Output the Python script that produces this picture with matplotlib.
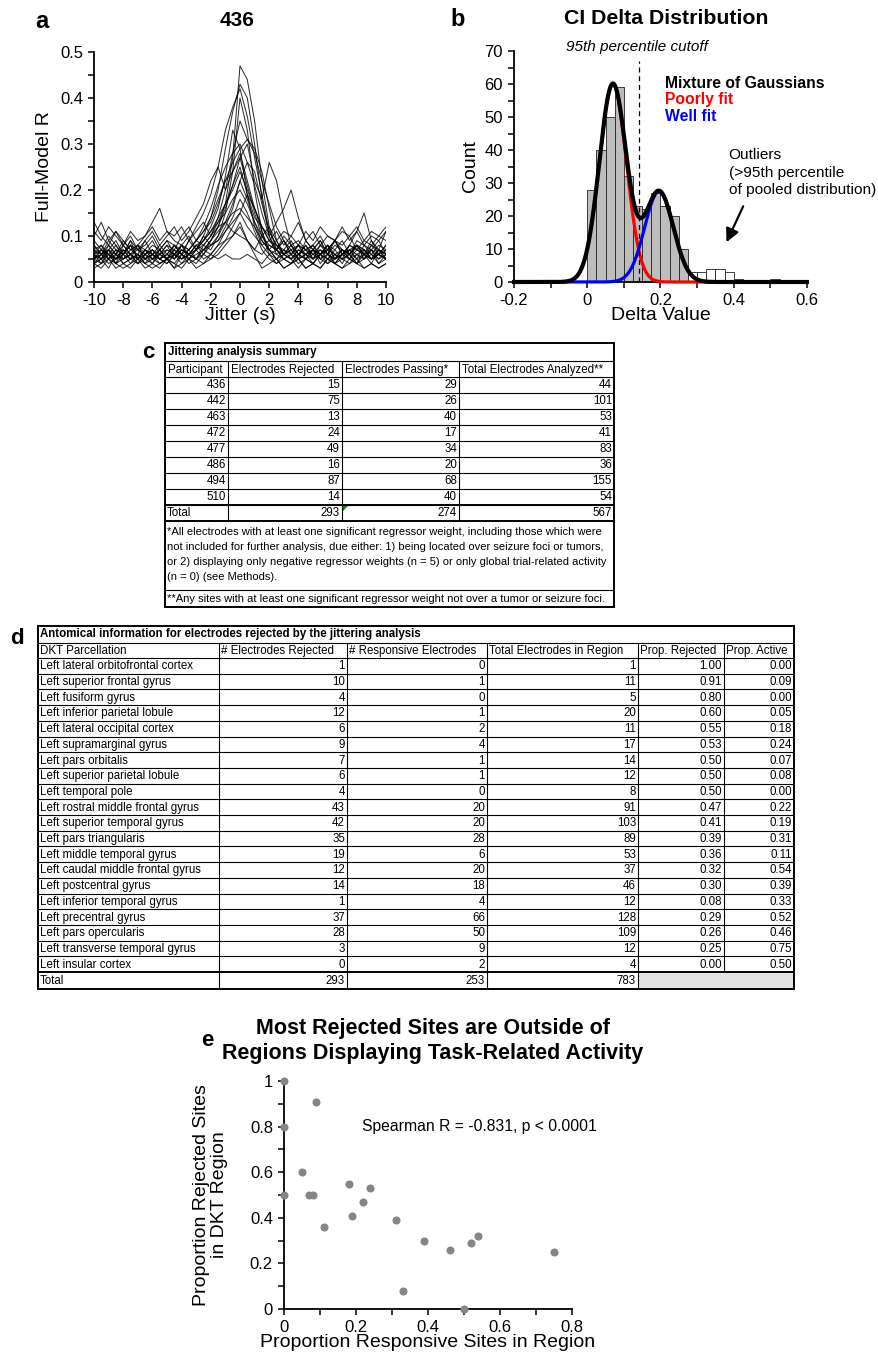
import numpy as np
import matplotlib
matplotlib.use("Agg")
import matplotlib.pyplot as plt
from matplotlib.ticker import MultipleLocator, FuncFormatter
from matplotlib.patches import Rectangle, Polygon

plt.rcParams['font.family'] = ['Liberation Sans', 'DejaVu Sans']

W, H = 879, 1353

# ---------------- panel a: jittered full-model R traces (values x100) ----------------
jitter = np.arange(-10, 10.5, 0.5)
traces_pct = [
    [6,5,7,4,6,5,8,5,6,4,5,7,5,6,8,6,9,12,17,27,47,44,35,22,12,7,5,6,8,5,6,7,5,6,4,7,6,5,8,6,5],
    [5,7,6,8,5,6,4,6,7,5,6,5,8,6,7,10,14,20,29,37,43,40,30,18,10,6,7,5,6,8,6,5,7,6,5,8,7,6,5,7,6],
    [7,6,8,6,5,7,6,9,6,7,5,8,6,9,12,15,19,25,33,38,42,36,27,19,11,8,6,7,5,6,7,9,6,5,7,6,8,7,5,6,8],
    [5,4,6,5,7,5,6,5,4,6,5,7,6,5,7,8,10,14,20,28,35,31,29,24,16,9,6,5,7,6,4,6,5,7,5,6,4,7,5,6,5],
    [8,6,7,9,6,8,7,6,8,7,9,6,8,7,9,11,13,17,22,26,29,31,28,22,17,12,9,7,8,6,7,9,6,8,7,6,9,8,7,6,8],
    [10,13,9,11,8,10,7,9,11,8,10,12,9,11,14,17,22,25,20,24,28,22,16,12,9,11,8,10,13,9,11,8,10,9,12,9,11,8,10,9,11],
    [4,6,5,7,4,5,6,4,5,7,5,6,4,6,5,7,9,12,16,21,27,30,22,18,26,22,14,8,6,5,7,4,6,5,7,5,4,6,5,7,5],
    [6,8,5,7,6,9,5,7,6,8,6,5,7,6,8,9,11,14,17,21,25,19,14,12,10,13,16,20,14,9,7,6,8,5,7,6,8,6,5,7,6],
    [5,7,6,4,8,6,5,7,5,6,8,5,7,6,5,8,7,10,13,17,22,18,13,9,7,5,6,8,6,5,7,6,8,5,6,7,5,8,6,5,7],
    [7,5,8,6,9,7,8,10,13,16,11,9,8,10,7,9,11,13,15,18,20,17,13,10,8,7,9,6,8,7,5,8,6,9,7,6,8,7,6,8,7],
    [4,5,3,6,4,5,4,6,5,4,5,3,6,4,5,4,6,8,11,14,18,15,11,7,5,4,6,5,3,5,4,6,4,5,6,8,11,15,9,6,5],
    [9,7,10,8,6,9,7,8,10,7,9,8,6,9,7,10,8,9,11,13,15,12,10,8,9,7,10,8,9,7,8,10,7,9,8,10,7,9,8,10,9],
    [3,4,5,3,4,3,5,4,3,4,5,3,4,5,3,4,5,6,8,10,13,9,6,3,4,5,3,4,5,3,4,3,5,4,3,5,4,3,4,3,4],
    [6,5,7,6,5,6,7,5,6,5,7,6,5,6,7,5,6,5,6,5,5,6,5,4,6,5,7,6,5,6,5,7,6,5,6,5,7,6,5,6,5],
    [11,9,12,10,8,11,9,10,12,9,11,10,12,9,11,13,10,12,13,11,10,9,7,10,12,9,11,10,8,11,9,12,10,9,11,10,12,9,11,10,12],
    [5,6,4,5,7,5,6,4,6,5,4,6,5,7,5,6,8,10,15,24,40,33,20,11,6,4,5,6,4,5,7,5,4,6,5,4,6,5,7,4,6],
    [8,6,9,7,6,8,5,7,9,6,8,7,10,12,9,11,14,18,22,24,27,21,15,10,7,9,6,8,5,9,7,6,8,7,9,6,8,5,7,9,6],
    [6,4,7,5,6,8,5,6,4,7,5,6,8,5,7,9,12,16,23,33,29,19,12,8,6,7,5,4,6,8,5,6,7,4,6,5,8,6,4,7,5],
    [4,3,5,4,3,4,5,3,4,3,5,4,3,5,4,6,5,7,9,12,15,19,16,11,7,5,3,4,5,3,4,3,5,4,3,4,5,3,4,3,4],
    [13,10,8,11,9,7,8,6,7,5,6,8,7,6,8,7,6,8,9,10,12,9,7,6,8,7,9,6,8,7,6,8,7,9,6,7,8,6,9,7,11],
    [6,7,5,6,8,6,5,7,6,5,6,8,6,7,9,12,16,21,25,28,30,26,21,15,10,7,6,5,7,6,5,6,8,6,7,5,6,7,5,6,7],
    [5,6,7,5,6,4,6,5,7,6,5,4,6,5,6,7,8,9,12,16,22,26,24,17,11,8,6,7,5,6,8,5,6,4,6,7,5,6,7,5,6],
    [7,8,6,5,7,6,8,7,5,6,7,6,8,7,9,8,10,13,17,20,24,20,16,12,9,8,7,9,6,7,8,6,7,9,6,8,7,6,8,7,6],
    [4,5,6,4,5,6,4,5,6,5,4,6,5,6,5,7,9,11,13,15,16,14,12,9,7,6,5,4,6,5,4,6,5,4,5,6,4,5,6,4,5],
]

# ---------------- panel b: CI delta histogram ----------------
bin_left = np.round(np.arange(0, 0.525, 0.025), 3)
counts = [28, 40, 50, 59, 32, 23, 22, 27, 23, 20, 10,
          3, 3, 4, 4, 3, 1, 0, 0, 0, 1]
n_fit = 11  # first bins are gray (fitted), the rest are outliers (white)
# mixture components: amplitude, mean, sd
poor_fit = (60.0, 0.070, 0.037)
well_fit = (27.5, 0.196, 0.039)
cutoff = 0.142

# ---------------- table c ----------------
participants = ['436', '442', '463', '472', '477', '486', '494', '510']
rejected = [15, 75, 13, 24, 49, 16, 87, 14]
passing = [29, 26, 40, 17, 34, 20, 68, 40]
analyzed = [44, 101, 53, 41, 83, 36, 155, 54]

# ---------------- table d ----------------
regions = ['Left lateral orbitofrontal cortex', 'Left superior frontal gyrus', 'Left fusiform gyrus',
           'Left inferior parietal lobule', 'Left lateral occipital cortex', 'Left supramarginal gyrus',
           'Left pars orbitalis', 'Left superior parietal lobule', 'Left temporal pole',
           'Left rostral middle frontal gyrus', 'Left superior temporal gyrus', 'Left pars triangularis',
           'Left middle temporal gyrus', 'Left caudal middle frontal gyrus', 'Left postcentral gyrus',
           'Left inferior temporal gyrus', 'Left precentral gyrus', 'Left pars opercularis',
           'Left transverse temporal gyrus', 'Left insular cortex']
reg_rejected = [1, 10, 4, 12, 6, 9, 7, 6, 4, 43, 42, 35, 19, 12, 14, 1, 37, 28, 3, 0]
reg_responsive = [0, 1, 0, 1, 2, 4, 1, 1, 0, 20, 20, 28, 6, 20, 18, 4, 66, 50, 9, 2]
reg_total = [1, 11, 5, 20, 11, 17, 14, 12, 8, 91, 103, 89, 53, 37, 46, 12, 128, 109, 12, 4]
prop_rejected = [1.00, 0.91, 0.80, 0.60, 0.55, 0.53, 0.50, 0.50, 0.50, 0.47,
                 0.41, 0.39, 0.36, 0.32, 0.30, 0.08, 0.29, 0.26, 0.25, 0.00]
prop_active = [0.00, 0.09, 0.00, 0.05, 0.18, 0.24, 0.07, 0.08, 0.00, 0.22,
               0.19, 0.31, 0.11, 0.54, 0.39, 0.33, 0.52, 0.46, 0.75, 0.50]

fig = plt.figure(figsize=(W / 100, H / 100), dpi=100)


def box(l, t, r, b):
    # pixel box -> figure fraction rect
    return [l / W, 1 - b / H, (r - l) / W, (b - t) / H]


def ftext(x, y, s, **kw):
    fig.text(x / W, 1 - y / H, s, **kw)


fmt = FuncFormatter(lambda v, p: '%g' % round(v, 3))


def style(ax):
    for s in ['top', 'right']:
        ax.spines[s].set_visible(False)
    for s in ['left', 'bottom']:
        ax.spines[s].set_linewidth(1.3)
    ax.tick_params(which='both', direction='out', width=1.1, labelsize=12)
    ax.tick_params(which='major', length=4.5)
    ax.tick_params(which='minor', length=4)
    ax.xaxis.set_major_formatter(fmt)
    ax.yaxis.set_major_formatter(fmt)


# ---- a ----
ax = fig.add_axes(box(94, 52, 386, 282))
for tr in traces_pct:
    ax.plot(jitter, np.array(tr) / 100.0, color='black', lw=0.75, alpha=0.8)
ax.set_xlim(-10, 10)
ax.set_ylim(0, 0.5)
ax.xaxis.set_major_locator(MultipleLocator(2))
ax.yaxis.set_major_locator(MultipleLocator(0.1))
ax.yaxis.set_minor_locator(MultipleLocator(0.05))
style(ax)
ax.set_xlabel('Jitter (s)', fontsize=14, labelpad=-1)
ax.set_ylabel('Full-Model R', fontsize=14, labelpad=5)
ftext(42, 21, 'a', fontsize=17, fontweight='bold', ha='center', va='center')
ftext(237, 21, '436', fontsize=15, fontweight='bold', ha='center', va='center')

# ---- b ----
ax = fig.add_axes(box(514, 51, 807, 282))
cols = ['#bdbdbd'] * n_fit + ['white'] * (len(counts) - n_fit)
ax.bar(bin_left, counts, width=0.025, align='edge', color=cols, edgecolor='#222222', lw=0.6, zorder=2)
xs = np.linspace(-0.2, 0.6, 600)
g1 = poor_fit[0] * np.exp(-(xs - poor_fit[1]) ** 2 / (2 * poor_fit[2] ** 2))
g2 = well_fit[0] * np.exp(-(xs - well_fit[1]) ** 2 / (2 * well_fit[2] ** 2))
ax.plot(xs, g1, color='#ff0000', lw=2.3, zorder=3, clip_on=False)
ax.plot(xs, g2, color='#0000ff', lw=2.3, zorder=3, clip_on=False)
ax.plot(xs, g1 + g2, color='black', lw=3, zorder=4, clip_on=False)
ax.plot([cutoff, cutoff], [0, 67], color='black', lw=0.9, ls=(0, (4, 3)), zorder=5, clip_on=False)
ax.set_xlim(-0.2, 0.6)
ax.set_ylim(0, 70)
ax.xaxis.set_major_locator(MultipleLocator(0.2))
ax.xaxis.set_minor_locator(MultipleLocator(0.1))
ax.yaxis.set_major_locator(MultipleLocator(10))
ax.yaxis.set_minor_locator(MultipleLocator(5))
style(ax)
ax.set_xlabel('Delta Value', fontsize=14, labelpad=-1)
ax.set_ylabel('Count', fontsize=14, labelpad=4)
ax.text(0.135, 71.3, '95th percentile cutoff', style='italic', fontsize=11, ha='center', va='center')
ax.text(0.213, 60.3, 'Mixture of Gaussians', fontsize=11.3, fontweight='bold', color='black', va='center')
ax.text(0.213, 55.3, 'Poorly fit', fontsize=11.3, fontweight='bold', color='#ff0000', va='center')
ax.text(0.213, 50.2, 'Well fit', fontsize=11.3, fontweight='bold', color='#0000ff', va='center')
ax.text(0.386, 40.5, 'Outliers\n(>95th percentile\nof pooled distribution)', fontsize=11.1,
        va='top', ha='left', linespacing=1.32, transform=ax.transData)
ax.annotate('', xy=(0.377, 11.3), xytext=(0.429, 23.7),
            arrowprops=dict(arrowstyle='-|>', color='black', lw=1.6, mutation_scale=20))
ftext(458, 19, 'b', fontsize=17, fontweight='bold', ha='center', va='center')
ftext(666, 19, 'CI Delta Distribution', fontsize=15.3, fontweight='bold', ha='center', va='center')

# ---- tables drawn in pixel space ----
tx = fig.add_axes([0, 0, 1, 1], zorder=-1)
tx.set_xlim(0, W)
tx.set_ylim(H, 0)
tx.axis('off')
FS = 8.3
FS_NOTE = 8.05


def hline(y, x0, x1, lw=0.8):
    tx.plot([x0, x1], [y, y], color='black', lw=lw, solid_capstyle='butt')


def vline(x, y0, y1, lw=0.8):
    tx.plot([x, x], [y0, y1], color='black', lw=lw, solid_capstyle='butt')


# table c
cx = [165, 228, 342, 459, 614]
c_top, c_title, c_head, rh = 343, 361, 377, 16
c_rows = [c_head + i * rh for i in range(len(participants) + 2)]
c_tot_b = c_rows[-1]
c_note1, c_bot = 590, 607
tx.add_patch(Rectangle((cx[0], c_top), cx[-1] - cx[0], c_bot - c_top, fill=False, lw=1.4, ec='black'))
hline(c_title, cx[0], cx[-1])
for y in c_rows[:-1]:
    hline(y, cx[0], cx[-1], lw=0.8)
hline(c_rows[-2], cx[0], cx[-1], lw=1.4)
hline(c_tot_b, cx[0], cx[-1], lw=1.4)
hline(c_note1, cx[0], cx[-1])
for x in cx[1:-1]:
    vline(x, c_title, c_tot_b)
tx.text(cx[0] + 3, (c_top + c_title) / 2, 'Jittering analysis summary', fontsize=FS, fontweight='bold', va='center')
c_heads = ['Participant', 'Electrodes Rejected', 'Electrodes Passing*', 'Total Electrodes Analyzed**']
for i, h in enumerate(c_heads):
    tx.text(cx[i] + 3, (c_title + c_head) / 2 + 0.5, h, fontsize=FS, va='center')
for r in range(len(participants)):
    yc = c_rows[r] + rh / 2 + 0.5
    vals = [participants[r], rejected[r], passing[r], analyzed[r]]
    for i, v in enumerate(vals):
        tx.text(cx[i + 1] - 2, yc, str(v), fontsize=FS, va='center', ha='right')
yc = c_rows[-2] + rh / 2 + 0.5
tx.text(cx[0] + 2, yc, 'Total', fontsize=FS, va='center')
for i, v in enumerate([sum(rejected), sum(passing), sum(analyzed)]):
    tx.text(cx[i + 2] - 2, yc, str(v), fontsize=FS, va='center', ha='right')
tx.add_patch(Polygon([[cx[2] + 1, c_rows[-2] + 1], [cx[2] + 6, c_rows[-2] + 1], [cx[2] + 1, c_rows[-2] + 6]],
                     closed=True, color='#1a8a1a', lw=0))
note1 = ('*All electrodes with at least one significant regressor weight, including those which were\n'
         'not included for further analysis, due either: 1) being located over seizure foci or tumors,\n'
         'or 2) displaying only negative regressor weights (n = 5) or only global trial-related activity\n'
         '(n = 0) (see Methods).')
tx.text(cx[0] + 2, c_tot_b + 6, note1, fontsize=FS_NOTE, va='top', linespacing=1.63)
tx.text(cx[0] + 2, (c_note1 + c_bot) / 2 + 0.5,
        '**Any sites with at least one significant regressor weight not over a tumor or seizure foci.',
        fontsize=FS_NOTE, va='center')
tx.text(148, 353, 'c', fontsize=16, fontweight='bold', ha='center', va='center')

# table d
dx = [38, 219, 347, 487, 638, 724, 794]
d_top, d_title, d_head = 626, 643, 658
drh = (972 - d_head) / len(regions)
d_rows = [d_head + i * drh for i in range(len(regions) + 1)]
d_bot = 989
tx.add_patch(Rectangle((dx[-3], d_rows[-1]), dx[-1] - dx[-3], d_bot - d_rows[-1], color='#e2e2e2', lw=0))
tx.add_patch(Rectangle((dx[0], d_top), dx[-1] - dx[0], d_bot - d_top, fill=False, lw=1.4, ec='black'))
hline(d_title, dx[0], dx[-1])
for y in d_rows[:-1]:
    hline(y, dx[0], dx[-1])
hline(d_rows[-1], dx[0], dx[-1], lw=1.4)
for x in dx[1:-2]:
    vline(x, d_title, d_bot)
vline(dx[-2], d_title, d_rows[-1])
tx.text(dx[0] + 2, (d_top + d_title) / 2, 'Antomical information for electrodes rejected by the jittering analysis',
        fontsize=FS, fontweight='bold', va='center')
d_heads = ['DKT Parcellation', '# Electrodes Rejected', '# Responsive Electrodes',
           'Total Electrodes in Region', 'Prop. Rejected', 'Prop. Active']
for i, h in enumerate(d_heads):
    tx.text(dx[i] + 2, (d_title + d_head) / 2 + 0.5, h, fontsize=FS, va='center')
for r in range(len(regions)):
    yc = d_rows[r] + drh / 2 + 0.5
    tx.text(dx[0] + 2, yc, regions[r], fontsize=FS, va='center')
    vals = [str(reg_rejected[r]), str(reg_responsive[r]), str(reg_total[r]),
            '%.2f' % prop_rejected[r], '%.2f' % prop_active[r]]
    for i, v in enumerate(vals):
        tx.text(dx[i + 2] - 2, yc, v, fontsize=FS, va='center', ha='right')
yc = (d_rows[-1] + d_bot) / 2 + 0.5
tx.text(dx[0] + 2, yc, 'Total', fontsize=FS, va='center')
for i, v in enumerate([sum(reg_rejected), sum(reg_responsive), sum(reg_total)]):
    tx.text(dx[i + 2] - 2, yc, str(v), fontsize=FS, va='center', ha='right')
tx.text(17, 638, 'd', fontsize=16, fontweight='bold', ha='center', va='center')

# ---- e ----
ax = fig.add_axes(box(284, 1081, 572, 1309))
ax.plot(prop_active, prop_rejected, 'o', color='#858585', ms=5.8, mec='none', clip_on=False, zorder=3)
ax.set_xlim(0, 0.8)
ax.set_ylim(0, 1)
ax.xaxis.set_major_locator(MultipleLocator(0.2))
ax.xaxis.set_minor_locator(MultipleLocator(0.1))
ax.yaxis.set_major_locator(MultipleLocator(0.2))
ax.yaxis.set_minor_locator(MultipleLocator(0.1))
style(ax)
ax.set_xlabel('Proportion Responsive Sites in Region', fontsize=14, labelpad=-1)
ax.set_ylabel('Proportion Rejected Sites\nin DKT Region', fontsize=14, labelpad=16, linespacing=1.05)
ax.text(0.217, 0.80, 'Spearman R = -0.831, p < 0.0001', fontsize=11.3, va='center')
ftext(433, 1041, 'Most Rejected Sites are Outside of\nRegions Displaying Task-Related Activity',
      fontsize=15.5, fontweight='bold', ha='center', va='center', linespacing=1.3)
ftext(207, 1040, 'e', fontsize=16, fontweight='bold', ha='center', va='center')

fig.savefig('out.png', dpi=100)
